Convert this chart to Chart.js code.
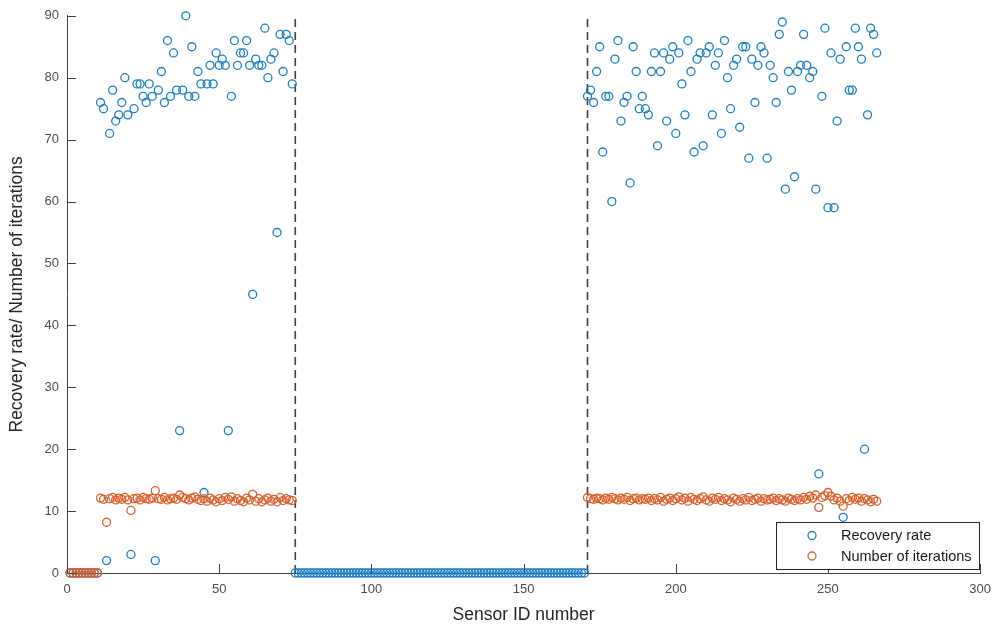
<!DOCTYPE html>
<html><head><meta charset="utf-8">
<script src="https://cdn.jsdelivr.net/npm/chart.js@4"></script>
<style>html,body{margin:0;padding:0;background:#fff}#wrap{width:1000px;height:631px}</style>
</head><body><div id="wrap"><canvas id="c" width="1000" height="631"></canvas></div>
<script>
// Recovery rate for sensor IDs 1..266 (10 per line)
const recoveryRate = [
  0,0,0,0,0,0,0,0,0,0,
  76,75,2,71,78,73,74,76,80,74,
  3,75,79,79,77,76,79,77,2,78,
  81,76,86,77,84,78,23,78,90,77,
  85,77,81,79,13,79,82,79,84,82,
  83,82,23,77,86,82,84,84,86,82,
  45,83,82,82,88,80,83,84,55,87,
  81,87,86,79,0,0,0,0,0,0,
  0,0,0,0,0,0,0,0,0,0,
  0,0,0,0,0,0,0,0,0,0,
  0,0,0,0,0,0,0,0,0,0,
  0,0,0,0,0,0,0,0,0,0,
  0,0,0,0,0,0,0,0,0,0,
  0,0,0,0,0,0,0,0,0,0,
  0,0,0,0,0,0,0,0,0,0,
  0,0,0,0,0,0,0,0,0,0,
  0,0,0,0,0,0,0,0,0,0,
  77,78,76,81,85,68,77,77,60,83,
  86,73,76,77,63,85,81,75,77,75,
  74,81,84,69,81,84,73,83,85,71,
  84,79,74,86,81,68,83,84,69,84,
  85,74,82,84,71,86,80,75,82,83,
  72,85,85,67,83,76,82,85,84,67,
  82,80,76,87,89,62,81,78,64,81,
  82,87,82,80,81,62,16,77,88,59,
  84,59,73,83,9,85,78,78,88,85,
  83,20,74,88,87,84
];
// Number of iterations for sensor IDs 1..266 (null = not plotted)
const iterations = [
  0,0,0,0,0,0,0,0,0,0,
  12.1,11.9,8.2,12.0,12.2,11.8,12.1,11.9,12.2,11.8,
  10.1,12.0,12.1,11.8,12.2,12.0,11.9,12.1,13.3,12.0,
  11.9,12.2,11.8,12.0,12.1,11.9,12.6,12.2,12.0,11.8,
  12.1,12.3,11.9,11.7,12.0,11.6,12.1,11.8,11.5,12.0,
  11.7,12.2,11.9,12.3,11.6,12.0,11.7,11.5,12.1,11.8,
  12.7,11.6,12.0,11.5,11.8,12.1,11.6,11.9,11.5,12.2,
  11.7,12.0,11.8,11.7,null,null,null,null,null,null,
  null,null,null,null,null,null,null,null,null,null,
  null,null,null,null,null,null,null,null,null,null,
  null,null,null,null,null,null,null,null,null,null,
  null,null,null,null,null,null,null,null,null,null,
  null,null,null,null,null,null,null,null,null,null,
  null,null,null,null,null,null,null,null,null,null,
  null,null,null,null,null,null,null,null,null,null,
  null,null,null,null,null,null,null,null,null,null,
  null,null,null,null,null,null,null,null,null,null,
  12.2,12.0,11.9,12.1,12.0,11.8,12.1,11.9,12.2,12.0,
  11.8,12.1,11.9,12.2,11.7,12.0,12.1,11.8,12.0,11.9,
  12.1,11.7,12.0,11.8,12.2,11.6,11.9,12.1,11.7,12.0,
  12.3,11.8,12.1,11.6,12.2,11.9,11.7,12.0,12.3,11.8,
  11.6,12.1,11.9,12.2,11.7,12.0,11.8,11.5,12.1,11.9,
  11.6,12.0,11.8,12.2,11.7,11.9,12.1,11.6,12.0,11.8,
  11.9,12.1,11.7,12.0,11.8,11.6,12.1,11.9,11.7,12.0,
  11.8,12.2,11.9,12.4,12.1,12.6,10.6,12.2,12.5,13.0,
  12.4,11.8,12.1,11.6,10.8,12.0,11.7,12.2,11.9,12.1,
  11.6,12.0,11.8,11.5,11.9,11.6
];
const sensorIds = recoveryRate.map((_, i) => i + 1);
const boundaryIds = [75, 171];
const boundaryRange = [0, 90];
const seriesLabels = ['Recovery rate', 'Number of iterations'];
const xTickValues = [0, 50, 100, 150, 200, 250, 300];
const yTickValues = [0, 10, 20, 30, 40, 50, 60, 70, 80, 90];

const BLUE = '#1a7fc6', ORANGE = '#dc5e2a', AXIS = '#444444';
const FONT = "'Liberation Sans', Arial, Helvetica, sans-serif";
Chart.defaults.font.family = FONT;

const toPoints = arr => sensorIds.map((id, i) => ({x: id, y: arr[i]})).filter(p => p.y !== null);

const inwardTicks = {
  id: 'inwardTicks',
  afterDatasetsDraw(chart) {
    const {ctx, chartArea: a, scales: {x, y}} = chart;
    ctx.save();
    ctx.strokeStyle = AXIS; ctx.lineWidth = 1;
    ctx.beginPath();
    y.ticks.forEach(t => { const py = Math.round(y.getPixelForValue(t.value)) + 0.5; ctx.moveTo(a.left, py); ctx.lineTo(a.left + 9, py); });
    x.ticks.forEach(t => { const px = Math.round(x.getPixelForValue(t.value)) + 0.5; ctx.moveTo(px, a.bottom); ctx.lineTo(px, a.bottom - 9); });
    ctx.stroke();
    ctx.restore();
  }
};

const boxLegend = {
  id: 'boxLegend',
  afterDraw(chart) {
    const {ctx, chartArea: a} = chart;
    const w = 203, h = 47;
    const x0 = Math.round(a.right - w) - 1, y0 = Math.round(a.bottom - h) - 4;
    ctx.save();
    ctx.fillStyle = '#fff';
    ctx.fillRect(x0, y0, w, h);
    ctx.strokeStyle = '#262626'; ctx.lineWidth = 1;
    ctx.strokeRect(x0 + 0.5, y0 + 0.5, w, h);
    const items = chart.data.datasets.filter(d => d.inLegend);
    items.forEach((d, i) => {
      const cy = y0 + 13.5 + i * 20.5;
      ctx.beginPath();
      ctx.arc(x0 + 36, cy, d.pointRadius, 0, Math.PI * 2);
      ctx.lineWidth = d.pointBorderWidth; ctx.strokeStyle = d.pointBorderColor;
      ctx.stroke();
      ctx.fillStyle = '#1a1a1a';
      ctx.font = '14.5px ' + FONT;
      ctx.textBaseline = 'middle'; ctx.textAlign = 'left';
      ctx.fillText(d.label, x0 + 65, cy + 0.5);
    });
    ctx.restore();
  }
};

const boundaryDatasets = boundaryIds.map(id => ({
  type: 'line',
  label: 'boundary ' + id,
  data: boundaryRange.map(v => ({x: id, y: v})),
  borderColor: '#404040', borderWidth: 1.6, borderDash: [8, 5],
  pointRadius: 0, showLine: true, fill: false, order: 3, clip: false
}));

new Chart(document.getElementById('c'), {
  type: 'scatter',
  data: {
    datasets: [
      { label: seriesLabels[0], inLegend: true, data: toPoints(recoveryRate),
        pointStyle: 'circle', pointRadius: 4, pointBorderWidth: 1.3,
        pointBorderColor: BLUE, pointBackgroundColor: 'rgba(0,0,0,0)', borderColor: BLUE,
        backgroundColor: 'rgba(0,0,0,0)', order: 2, clip: false },
      { label: seriesLabels[1], inLegend: true, data: toPoints(iterations),
        pointStyle: 'circle', pointRadius: 4, pointBorderWidth: 1.3,
        pointBorderColor: ORANGE, pointBackgroundColor: 'rgba(0,0,0,0)', borderColor: ORANGE,
        backgroundColor: 'rgba(0,0,0,0)', order: 1, clip: false },
      ...boundaryDatasets
    ]
  },
  options: {
    responsive: false, animation: false, devicePixelRatio: 1,
    layout: { padding: { left: 0, top: 14, right: 18, bottom: 0 } },
    plugins: { legend: { display: false }, tooltip: { enabled: false } },
    scales: {
      x: {
        type: 'linear', min: 0, max: 300,
        afterBuildTicks: s => { s.ticks = xTickValues.map(v => ({value: v})); },
        afterFit: s => { s.height = 58; },
        grid: { display: false, drawTicks: false },
        border: { display: true, color: AXIS, width: 1 },
        ticks: { color: '#4d4d4d', font: { size: 13 }, padding: 9, maxRotation: 0 },
        title: { display: true, text: 'Sensor ID number', color: '#262626', font: { size: 17.5 }, padding: { top: 0, bottom: 5 } }
      },
      y: {
        type: 'linear', min: 0, max: 90,
        afterBuildTicks: s => { s.ticks = yTickValues.map(v => ({value: v})); },
        afterFit: s => { s.width = 67; },
        grid: { display: false, drawTicks: false },
        border: { display: true, color: AXIS, width: 1 },
        ticks: { color: '#4d4d4d', font: { size: 13 }, padding: 8 },
        title: { display: true, text: 'Recovery rate/ Number of iterations', color: '#262626', font: { size: 17.5 }, padding: { top: 7, bottom: 0 } }
      }
    }
  },
  plugins: [inwardTicks, boxLegend]
});
</script>
</body></html>
